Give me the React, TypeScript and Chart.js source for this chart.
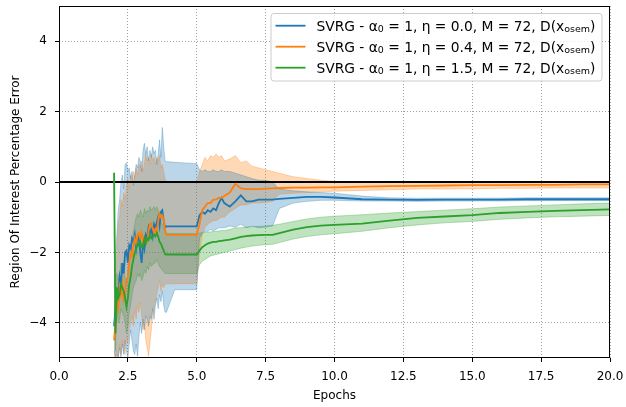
import React, { useEffect, useRef } from 'react';
import { Chart, registerables } from 'chart.js';

Chart.register(...registerables);

// ---------- data ----------
const EPOCHS = [
  2, 2.05, 2.1, 2.15, 2.2, 2.25, 2.3, 2.35, 2.4, 2.45,
  2.5, 2.55, 2.6, 2.65, 2.7, 2.75, 2.8, 2.85, 2.9, 2.95,
  3, 3.05, 3.1, 3.15, 3.2, 3.25, 3.3, 3.35, 3.4, 3.45,
  3.5, 3.55, 3.6, 3.65, 3.7, 3.75, 3.8, 3.85, 3.9,
  4.2, 5, 5.1, 5.2, 5.3, 5.4, 5.5, 5.6, 5.7, 5.8,
  5.9, 6, 6.2, 6.4, 6.6, 6.8, 7, 7.25, 7.5, 7.75,
  8, 8.5, 9, 9.5, 10, 11, 12, 13, 14, 15,
  16, 17, 18, 19, 20,
];

const BLUE_MEAN = [
  -4.1, -3.6, -3.0, -3.3, -2.7, -2.9, -2.3, -2.6, -2.0, -1.95,
  -2.3, -1.8, -1.9, -1.6, -1.7, -1.5, -1.9, -1.6, -1.55, -2.0,
  -2.3, -1.7, -1.9, -1.5, -1.6, -1.3, -1.45, -1.35, -1.55, -1.2,
  -1.3, -1.15, -1.0, -1.25, -0.85, -0.8, -1.1, -1.3, -1.26,
  -1.26, -1.26, -0.95, -0.85, -0.9, -0.8, -0.85, -0.75, -0.8, -0.6,
  -0.45, -0.6, -0.7, -0.55, -0.38, -0.55, -0.55, -0.5, -0.5, -0.5,
  -0.48, -0.45, -0.42, -0.42, -0.44, -0.49, -0.5, -0.51, -0.5, -0.5,
  -0.5, -0.49, -0.49, -0.49, -0.49,
];
const BLUE_UP = [
  -3.0, -2.0, -1.5, -0.8, -0.5, 0.0, 0.2, -0.2, 0.5, 0.55,
  0.3, 0.4, 0.1, 0.3, -0.1, 0.2, 0.5, 0.4, 0.7, 0.6,
  0.3, 0.9, 1.1, 0.8, 1.0, 0.6, 0.9, 0.7, 1.0, 0.8,
  0.9, 0.5, 0.8, 1.2, 0.7, 1.55, 1.0, 0.6, 0.58,
  0.56, 0.52, 0.35, 0.3, 0.35, 0.3, 0.3, 0.35, 0.3, 0.3,
  0.35, 0.3, 0.3, 0.25, 0.2, 0.15, 0.1, 0.05, 0.05, 0.0,
  -0.2, -0.25, -0.28, -0.3, -0.32, -0.4, -0.45, -0.46, -0.46, -0.46,
  -0.46, -0.45, -0.45, -0.45, -0.45,
];
const BLUE_LO = [
  -4.8, -5.0, -4.9, -5.0, -4.7, -5.0, -4.6, -4.9, -4.5, -4.8,
  -5.0, -4.6, -4.2, -4.5, -4.8, -4.9, -4.6, -4.95, -4.4, -4.0,
  -4.3, -3.9, -4.2, -3.8, -3.9, -4.1, -3.8, -3.9, -3.6, -3.9,
  -3.5, -3.3, -3.6, -3.2, -3.4, -3.1, -3.5, -3.7, -3.7,
  -3.06, -3.06, -1.6, -1.45, -1.4, -1.4, -1.35, -1.38, -1.35, -1.3,
  -1.3, -1.3, -1.25, -1.28, -1.2, -1.3, -1.25, -1.3, -1.28, -1.25,
  -0.75, -0.6, -0.55, -0.52, -0.52, -0.54, -0.54, -0.55, -0.54, -0.54,
  -0.54, -0.53, -0.53, -0.53, -0.53,
];

const ORANGE_MEAN = [
  -4.5, -4.0, -3.4, -3.6, -3.0, -3.2, -2.9, -3.35, -3.2, -2.8,
  -2.7, -2.3, -2.0, -2.1, -1.8, -1.6, -1.75, -1.5, -1.45, -1.6,
  -1.45, -1.7, -1.6, -1.75, -1.7, -1.4, -1.2, -1.17, -1.3, -1.45,
  -1.35, -1.45, -1.1, -0.9, -1.0, -0.95, -1.1, -1.35, -1.5,
  -1.5, -1.5, -1.2, -0.8, -0.7, -0.6, -0.6, -0.5, -0.5, -0.45,
  -0.45, -0.4, -0.3, -0.05, -0.18, -0.2, -0.2, -0.2, -0.19, -0.18,
  -0.17, -0.16, -0.16, -0.15, -0.15, -0.13, -0.12, -0.11, -0.1, -0.09,
  -0.09, -0.08, -0.08, -0.07, -0.07,
];
const ORANGE_UP = [
  -3.8, -3.0, -2.0, -1.2, -1.0, -0.5, -0.7, -0.3, -0.5, -0.1,
  0.1, -0.2, 0.2, 0.0, 0.3, 0.1, 0.4, 0.2, 0.5, 0.4,
  0.6, 0.3, 0.5, 0.8, 0.6, 0.7, 0.5, 0.8, 0.6, 0.7,
  0.5, 0.7, 0.6, 0.75, 0.4, 0.5, 0.3, 0.1, 0.0,
  0.0, 0.0, 0.3, 0.5, 0.7, 0.6, 0.75, 0.7, 0.8, 0.7,
  0.75, 0.6, 0.65, 0.75, 0.55, 0.6, 0.45, 0.4, 0.35, 0.3,
  0.25, 0.15, 0.1, 0.05, 0.02, 0.0, 0.0, 0.0, -0.01, -0.01,
  -0.01, -0.01, -0.01, -0.01, -0.01,
];
const ORANGE_LO = [
  -4.9, -5.0, -4.8, -5.0, -4.6, -4.9, -4.5, -4.8, -4.9, -4.4,
  -4.6, -4.2, -4.0, -3.8, -4.1, -3.6, -3.9, -3.5, -3.7, -3.4,
  -3.8, -4.2, -4.0, -4.5, -4.7, -4.95, -4.6, -4.2, -3.8, -3.6,
  -3.4, -3.2, -3.0, -2.8, -3.1, -2.9, -3.0, -2.9, -2.9,
  -2.89, -2.89, -2.0, -1.5, -1.3, -1.2, -1.15, -1.1, -1.1, -1.05,
  -1.0, -1.0, -0.85, -0.75, -0.65, -0.65, -0.6, -0.6, -0.58, -0.55,
  -0.35, -0.32, -0.3, -0.28, -0.26, -0.24, -0.22, -0.2, -0.2, -0.19,
  -0.18, -0.18, -0.17, -0.17, -0.17,
];

const GREEN_MEAN = [
  0.26, -4.3, -3.0, -3.3, -3.2, -2.9, -3.0, -3.1, -3.3, -3.55,
  -3.3, -2.9, -2.7, -2.4, -2.2, -2.0, -1.9, -1.75, -1.8, -1.7,
  -1.85, -1.85, -1.6, -1.75, -1.6, -1.65, -1.5, -1.6, -1.55, -1.5,
  -1.55, -1.45, -1.55, -1.7, -1.75, -1.85, -1.95, -2.05, -2.06,
  -2.06, -2.06, -1.95, -1.85, -1.8, -1.75, -1.72, -1.7, -1.7, -1.68,
  -1.67, -1.66, -1.64, -1.6, -1.56, -1.54, -1.52, -1.51, -1.5, -1.5,
  -1.45, -1.35, -1.28, -1.24, -1.22, -1.18, -1.1, -1.02, -0.98, -0.94,
  -0.88, -0.85, -0.82, -0.8, -0.78,
];
const GREEN_UP = [
  0.26, -3.8, -2.6, -2.8, -2.6, -2.3, -2.4, -2.5, -2.7, -2.9,
  -2.6, -2.2, -2.0, -1.7, -1.4, -1.2, -1.0, -0.9, -1.0, -0.8,
  -0.9, -1.0, -0.75, -0.9, -0.8, -0.85, -0.7, -0.8, -0.75, -0.7,
  -0.8, -0.7, -0.8, -1.0, -1.1, -1.2, -1.3, -1.45, -1.46,
  -1.46, -1.46, -1.45, -1.44, -1.43, -1.42, -1.42, -1.4, -1.4, -1.39,
  -1.38, -1.38, -1.35, -1.3, -1.3, -1.28, -1.27, -1.26, -1.25, -1.23,
  -1.2, -1.12, -1.05, -1.0, -0.97, -0.93, -0.88, -0.84, -0.8, -0.76,
  -0.71, -0.68, -0.65, -0.62, -0.6,
];
const GREEN_LO = [
  0.26, -4.8, -3.6, -4.0, -3.9, -3.6, -3.7, -3.8, -4.0, -4.3,
  -4.1, -3.7, -3.5, -3.2, -3.0, -2.9, -2.8, -2.6, -2.7, -2.6,
  -2.8, -2.7, -2.5, -2.6, -2.4, -2.5, -2.3, -2.4, -2.35, -2.3,
  -2.3, -2.2, -2.3, -2.4, -2.45, -2.5, -2.55, -2.6, -2.6,
  -2.6, -2.6, -2.35, -2.25, -2.2, -2.15, -2.1, -2.08, -2.06, -2.04,
  -2.02, -2.0, -1.96, -1.92, -1.88, -1.85, -1.82, -1.8, -1.78, -1.77,
  -1.72, -1.62, -1.55, -1.5, -1.47, -1.4, -1.3, -1.22, -1.16, -1.12,
  -1.06, -1.02, -0.99, -0.97, -0.95,
];

const ETAS = ['0.0', '0.4', '1.5'];
const M_VALUE = 72;
const X_TICKS = [0, 2.5, 5, 7.5, 10, 12.5, 15, 17.5, 20];
const Y_TICKS = [-4, -2, 0, 2, 4];
const X_LABEL = 'Epochs';
const Y_LABEL = 'Region Of Interest Percentage Error';

const COLORS = ['31,119,180', '255,127,14', '44,160,44'];
const FONT = '"DejaVu Sans", sans-serif';

function pts(ys: number[]) {
  return EPOCHS.map((x, i) => ({ x, y: ys[i] }));
}

const frameAndLegend = {
  id: 'frameAndLegend',
  afterDraw(chart: any) {
    const { ctx, chartArea: a } = chart;
    ctx.save();
    // plot frame
    ctx.strokeStyle = '#000';
    ctx.lineWidth = 1;
    ctx.strokeRect(Math.round(a.left) + 0.5, Math.round(a.top) + 0.5, Math.round(a.right - a.left) - 1, Math.round(a.bottom - a.top) - 1);

    // legend
    const mainFont = `13.8px ${FONT}`;
    const subFont = `9.5px ${FONT}`;
    const rows = ETAS.map((eta) => [
      ['SVRG - \u03b1', 0],
      ['0', 1],
      [` = 1, \u03b7 = ${eta}, M = ${M_VALUE}, D(x`, 0],
      ['osem', 1],
      [')', 0],
    ] as [string, number][]);
    const widthOf = (segs: [string, number][]) => {
      let w = 0;
      for (const [t, s] of segs) {
        ctx.font = s ? subFont : mainFont;
        w += ctx.measureText(t).width;
      }
      return w;
    };
    const textW = Math.max(...rows.map(widthOf));
    const padL = 4.5, handle = 30, gap = 11, padR = 6.5;
    const boxW = padL + handle + gap + textW + padR;
    const boxRight = a.right - 8;
    const boxLeft = boxRight - boxW;
    const boxTop = a.top + 7.5;
    const boxH = 67.5;
    const r = 3;
    ctx.beginPath();
    ctx.moveTo(boxLeft + r, boxTop);
    ctx.lineTo(boxRight - r, boxTop);
    ctx.quadraticCurveTo(boxRight, boxTop, boxRight, boxTop + r);
    ctx.lineTo(boxRight, boxTop + boxH - r);
    ctx.quadraticCurveTo(boxRight, boxTop + boxH, boxRight - r, boxTop + boxH);
    ctx.lineTo(boxLeft + r, boxTop + boxH);
    ctx.quadraticCurveTo(boxLeft, boxTop + boxH, boxLeft, boxTop + boxH - r);
    ctx.lineTo(boxLeft, boxTop + r);
    ctx.quadraticCurveTo(boxLeft, boxTop, boxLeft + r, boxTop);
    ctx.closePath();
    ctx.fillStyle = 'rgba(255,255,255,0.8)';
    ctx.fill();
    ctx.strokeStyle = '#cccccc';
    ctx.lineWidth = 1;
    ctx.stroke();

    rows.forEach((segs, i) => {
      const cy = boxTop + 12.2 + i * 21;
      ctx.strokeStyle = `rgb(${COLORS[i]})`;
      ctx.lineWidth = 1.8;
      ctx.beginPath();
      ctx.moveTo(boxLeft + padL, cy);
      ctx.lineTo(boxLeft + padL + handle, cy);
      ctx.stroke();
      let x = boxLeft + padL + handle + gap;
      ctx.fillStyle = '#000';
      ctx.textBaseline = 'alphabetic';
      ctx.textAlign = 'left';
      const base = cy + 5;
      for (const [t, s] of segs) {
        ctx.font = s ? subFont : mainFont;
        ctx.fillText(t, x, s ? base + 1.5 : base);
        x += ctx.measureText(t).width;
      }
    });
    ctx.restore();
  },
};

export default function App() {
  const ref = useRef<HTMLCanvasElement | null>(null);

  useEffect(() => {
    if (!ref.current) return;
    Chart.defaults.font.family = FONT;
    const band = (ys: number[], c: string, fill: any) => ({
      data: pts(ys),
      borderColor: `rgba(${c},0.3)`,
      backgroundColor: `rgba(${c},0.3)`,
      borderWidth: 1,
      pointRadius: 0,
      fill,
      order: 5,
    });
    const mean = (ys: number[], c: string, order: number) => ({
      data: pts(ys),
      borderColor: `rgb(${c})`,
      borderWidth: 1.8,
      pointRadius: 0,
      fill: false,
      order,
    });
    const chart = new Chart(ref.current, {
      type: 'line',
      data: {
        datasets: [
          band(BLUE_UP, COLORS[0], '+1'),
          band(BLUE_LO, COLORS[0], false),
          band(ORANGE_UP, COLORS[1], '+1'),
          band(ORANGE_LO, COLORS[1], false),
          band(GREEN_UP, COLORS[2], '+1'),
          band(GREEN_LO, COLORS[2], false),
          {
            data: [{ x: X_TICKS[0], y: 0 }, { x: X_TICKS[X_TICKS.length - 1], y: 0 }],
            borderColor: '#000',
            borderWidth: 2,
            pointRadius: 0,
            fill: false,
            order: 4,
          },
          mean(BLUE_MEAN, COLORS[0], 3),
          mean(ORANGE_MEAN, COLORS[1], 2),
          mean(GREEN_MEAN, COLORS[2], 1),
        ] as any,
      },
      options: {
        responsive: false,
        animation: false,
        parsing: false as any,
        layout: { padding: { left: 0, right: 16, top: 6, bottom: 0 } },
        plugins: {
          legend: { display: false },
          tooltip: { enabled: false },
          filler: { drawTime: 'beforeDatasetsDraw' } as any,
        },
        scales: {
          x: {
            type: 'linear',
            min: 0,
            max: 20,
            afterBuildTicks: (s: any) => { s.ticks = X_TICKS.map((v) => ({ value: v })); },
            afterFit: (s: any) => { s.height = 49; s.paddingLeft = 0; s.paddingRight = 0; },
            ticks: {
              callback: (v: any) => Number(v).toFixed(1),
              font: { size: 12, family: FONT },
              color: '#000',
              padding: 8,
              maxRotation: 0,
              autoSkip: false,
            },
            grid: {
              color: 'rgba(150,150,150,0.9)',
              lineWidth: 1,
              tickLength: 4,
              tickColor: '#000',
              tickBorderDash: [1, 0],
              tickWidth: 1,
            } as any,
            border: { display: false, dash: [1, 2] },
            title: {
              display: true,
              text: X_LABEL,
              font: { size: 12, family: FONT },
              color: '#000',
              padding: { top: 0, bottom: 4 },
            },
          },
          y: {
            type: 'linear',
            min: -5,
            max: 5,
            afterBuildTicks: (s: any) => { s.ticks = Y_TICKS.map((v) => ({ value: v })); },
            afterFit: (s: any) => { s.width = 59; s.paddingTop = 0; s.paddingBottom = 0; },
            ticks: {
              callback: (v: any) => (Number(v) < 0 ? '\u2212' + Math.abs(Number(v)) : String(v)),
              font: { size: 12, family: FONT },
              color: '#000',
              padding: 8,
              autoSkip: false,
            },
            grid: {
              color: 'rgba(150,150,150,0.9)',
              lineWidth: 1,
              tickLength: 4,
              tickColor: '#000',
              tickBorderDash: [1, 0],
              tickWidth: 1,
            } as any,
            border: { display: false, dash: [1, 2] },
            title: {
              display: true,
              text: Y_LABEL,
              font: { size: 12, family: FONT },
              color: '#000',
              padding: { top: 9, bottom: 0 },
            },
          },
        },
      },
      plugins: [frameAndLegend],
    });
    return () => chart.destroy();
  }, []);

  return (
    <div style={{ position: 'fixed', left: 0, top: 0, width: 626, height: 407, background: '#fff' }}>
      <canvas ref={ref} width={626} height={407} style={{ display: 'block', width: 626, height: 407 }} />
    </div>
  );
}
